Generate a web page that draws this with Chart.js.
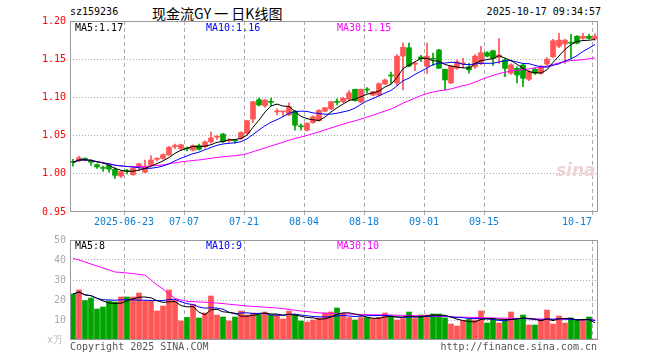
<!DOCTYPE html>
<html>
<head>
<meta charset="utf-8">
<script src="https://cdn.jsdelivr.net/npm/chart.js@4/dist/chart.umd.min.js"></script>
<style>
body { margin: 0; background: #fff; width: 660px; height: 360px; position: relative; overflow: hidden;
  font-family: "DejaVu Sans Mono", monospace; font-size: 10px; }
.t { position: absolute; white-space: nowrap; line-height: 12px; }
canvas { position: absolute; left: 0; }
</style>
</head>
<body>
<div class="t" style="left:70px;top:6px">sz159236</div>
<div class="t" style="left:152px;top:3px;font:14px 'Noto Sans CJK SC'">现金流GY 一 日K线图</div>
<div class="t" style="right:59px;top:6px">2025-10-17 09:34:57</div>
<canvas id="kc" width="660" height="232" style="top:0"></canvas>
<canvas id="vc" width="660" height="130" style="top:230px"></canvas>
<div class="t" style="left:75px;top:22px;color:#000">MA5:1.17</div>
<div class="t" style="left:206px;top:22px;color:#0000ff">MA10:1.16</div>
<div class="t" style="left:337px;top:22px;color:#ff00ff">MA30:1.15</div>
<div class="t" style="left:75px;top:240px;color:#000">MA5:8</div>
<div class="t" style="left:206px;top:240px;color:#0000ff">MA10:9</div>
<div class="t" style="left:337px;top:240px;color:#ff00ff">MA30:10</div>
<div class="t" style="left:47px;top:334px;color:#bbb">x万</div>
<div class="t" style="left:70px;top:341px;color:#555">Copyright 2025 SINA.COM</div>
<div class="t" style="right:63px;top:341px;color:#555">http://finance.sina.com.cn</div>
<div class="t" style="left:556px;top:160px;color:#f0d4d4;font:italic bold 17px 'DejaVu Sans'">sina</div>
<script>
const dates = [
  "06-10","06-11","06-12","06-13","06-16","06-17","06-18","06-19","06-20","06-23",
  "06-24","06-25","06-26","06-27","06-30","07-01","07-02","07-03","07-04","07-07",
  "07-08","07-09","07-10","07-11","07-14","07-15","07-16","07-17","07-18","07-21",
  "07-22","07-23","07-24","07-25","07-28","07-29","07-30","07-31","08-01","08-04",
  "08-05","08-06","08-07","08-08","08-11","08-12","08-13","08-14","08-15","08-18",
  "08-19","08-20","08-21","08-22","08-25","08-26","08-27","08-28","08-29","09-01",
  "09-02","09-03","09-04","09-05","09-08","09-09","09-10","09-11","09-12","09-15",
  "09-16","09-17","09-18","09-19","09-22","09-23","09-24","09-25","09-26","09-29",
  "09-30","10-09","10-10","10-13","10-14","10-15","10-16","10-17"
];
const tickDates = ["06-23", "07-07", "07-21", "08-04", "08-18", "09-01", "09-15", "10-17"];
const tickText = ["2025-06-23", "07-07", "07-21", "08-04", "08-18", "09-01", "09-15", "10-17"];

const opens = [
  1.016, 1.017, 1.020, 1.016, 1.012, 1.008, 1.011, 1.006, 0.997, 1.004,
  0.999, 1.009, 1.002, 1.0115, 1.019, 1.020, 1.0246, 1.0355, 1.033, 1.033,
  1.031, 1.037, 1.0355, 1.0416, 1.048, 1.052, 1.043, 1.0435, 1.0465, 1.053,
  1.0717, 1.097, 1.089, 1.0945, 1.081, 1.081, 1.077, 1.082, 1.062, 1.057,
  1.067, 1.0695, 1.082, 1.085, 1.0945, 1.0944, 1.0975, 1.1106, 1.094, 1.1105,
  1.103, 1.103, 1.1175, 1.129, 1.119, 1.154, 1.165, 1.1435, 1.153, 1.141,
  1.1505, 1.162, 1.1368, 1.119, 1.138, 1.144, 1.140, 1.140, 1.1446, 1.1585,
  1.161, 1.1525, 1.149, 1.1316, 1.138, 1.1424, 1.1237, 1.1368, 1.1316, 1.1437,
  1.1533, 1.167, 1.170, 1.1718, 1.180, 1.1773, 1.180, 1.1765
];
const highs = [
  1.019, 1.023, 1.021, 1.019, 1.013, 1.010, 1.012, 1.008, 1.004, 1.006,
  1.009, 1.014, 1.018, 1.024, 1.021, 1.026, 1.036, 1.039, 1.039, 1.035,
  1.038, 1.039, 1.043, 1.0547, 1.050, 1.053, 1.046, 1.045, 1.055, 1.070,
  1.095, 1.099, 1.097, 1.099, 1.085, 1.082, 1.093, 1.083, 1.065, 1.067,
  1.076, 1.084, 1.087, 1.095, 1.098, 1.100, 1.109, 1.111, 1.111, 1.113,
  1.108, 1.119, 1.124, 1.133, 1.156, 1.171, 1.171, 1.146, 1.155, 1.171,
  1.158, 1.163, 1.137, 1.141, 1.149, 1.151, 1.1446, 1.156, 1.167, 1.160,
  1.162, 1.177, 1.151, 1.144, 1.140, 1.144, 1.135, 1.139, 1.142, 1.152,
  1.176, 1.184, 1.176, 1.1826, 1.181, 1.184, 1.183, 1.183
];
const lows = [
  1.010, 1.016, 1.017, 1.011, 1.007, 1.003, 1.002, 0.994, 0.995, 1.000,
  0.998, 1.004, 1.001, 1.011, 1.017, 1.019, 1.024, 1.033, 1.031, 1.030,
  1.030, 1.031, 1.034, 1.040, 1.045, 1.041, 1.041, 1.040, 1.045, 1.052,
  1.067, 1.089, 1.087, 1.089, 1.077, 1.075, 1.076, 1.057, 1.057, 1.056,
  1.066, 1.069, 1.081, 1.084, 1.090, 1.093, 1.096, 1.095, 1.093, 1.106,
  1.102, 1.102, 1.117, 1.118, 1.116, 1.1097, 1.140, 1.135, 1.147, 1.1315,
  1.142, 1.138, 1.1097, 1.118, 1.137, 1.139, 1.1316, 1.138, 1.143, 1.153,
  1.142, 1.1446, 1.127, 1.130, 1.119, 1.114, 1.122, 1.130, 1.130, 1.142,
  1.152, 1.165, 1.1446, 1.151, 1.170, 1.176, 1.1765, 1.175
];
const closes = [
  1.015, 1.021, 1.019, 1.015, 1.009, 1.007, 1.006, 0.998, 1.003, 1.003,
  1.007, 1.013, 1.009, 1.018, 1.0195, 1.025, 1.0347, 1.037, 1.038, 1.0325,
  1.037, 1.032, 1.0416, 1.047, 1.0486, 1.042, 1.0435, 1.043, 1.054, 1.0695,
  1.0944, 1.090, 1.0966, 1.0935, 1.0816, 1.0816, 1.088, 1.0635, 1.0615, 1.066,
  1.0747, 1.083, 1.0865, 1.0944, 1.0935, 1.0988, 1.106, 1.0957, 1.1106, 1.1097,
  1.1075, 1.118, 1.1228, 1.128, 1.154, 1.1656, 1.141, 1.1446, 1.1505, 1.154,
  1.150, 1.138, 1.1228, 1.141, 1.1467, 1.145, 1.136, 1.154, 1.1585, 1.154,
  1.151, 1.1555, 1.138, 1.1424, 1.1293, 1.125, 1.1336, 1.1316, 1.140, 1.150,
  1.1742, 1.175, 1.175, 1.171, 1.171, 1.180, 1.1773, 1.1795
];
const volumes = [
  23, 25, 19.7, 21, 15.5, 16.5, 19.5, 19, 21.5, 21.5,
  21.5, 23.5, 19.5, 19.5, 14.5, 17, 25, 20, 9.5, 11.3,
  17.8, 11, 13.5, 22, 12.5, 11.5, 9.5, 11.5, 14.5, 12.5,
  13.5, 12.5, 14, 12.5, 12.5, 10.5, 14.5, 12.5, 9.5, 9,
  10, 11, 13.5, 14, 16, 13.3, 11.2, 10, 11.2, 11.2,
  10.7, 11.3, 13.5, 12, 10, 10.7, 14, 10.7, 12.5, 12.5,
  13, 13, 11, 8, 7, 9.8, 10.3, 10, 14.5, 8.5,
  10.3, 8.5, 9.7, 14, 10.3, 12.5, 7.5, 7.5, 10.3, 15,
  8, 12, 8.5, 11, 10, 10, 11.5, 0.5
];
// volume MA30 (history before 06-10 is not shown)
const volMa30 = [
  40.8, 40, 39, 38, 37, 36, 35, 34, 33.8, 33.5,
  33.2, 32.8, 32.4, 30, 27.5, 25.5, 23, 20.8, 20, 19.3,
  19.2, 19, 18.9, 18.7, 18.5, 18.2, 17.9, 17.6, 17.3, 17,
  16.8, 16.6, 16.4, 16.2, 16, 15.7, 15.3, 14.9, 14.5, 14.2,
  13.9, 13.6, 13.4, 13.3, 13.2, 13.1, 13, 12.9, 12.8, 12.7,
  12.6, 12.6, 12.5, 12.5, 12.4, 12.3, 12.3, 12.2, 12.1, 12,
  11.9, 11.8, 11.7, 11.6, 11.5, 11.4, 11.3, 11.3, 11.2, 11.1,
  11, 10.9, 10.9, 10.8, 10.8, 10.7, 10.6, 10.6, 10.5, 10.5,
  10.4, 10.4, 10.3, 10.3, 10.2, 10.2, 10.1, 10
];

const RED = "#ff5555", GREEN = "#00a400", GRID = "#aaaaaa", FRAME = "#999999";
const colors = closes.map((c, i) => c >= opens[i] ? RED : GREEN);

function ma(arr, n) {
  return arr.map((_, i) => {
    const s = arr.slice(Math.max(0, i - n + 1), i + 1);
    return s.reduce((a, b) => a + b, 0) / s.length;
  });
}

const frame = {
  id: "frame",
  afterDraw(chart) {
    const a = chart.chartArea, ctx = chart.ctx;
    ctx.save();
    ctx.strokeStyle = FRAME;
    ctx.lineWidth = 1;
    ctx.strokeRect(Math.round(a.left) + 0.5, Math.round(a.top) + 0.5,
      Math.round(a.right - a.left) - 1, Math.round(a.bottom - a.top) - 1);
    ctx.restore();
  }
};

const vGridColor = ctx => {
  const i = ctx.index;
  return (i < dates.length && tickDates.includes(dates[i])) ? GRID : "rgba(0,0,0,0)";
};

function xScale(showLabels) {
  return {
    type: "category",
    offset: true,
    grid: { offset: true, color: vGridColor, tickColor: vGridColor, tickLength: 3,
      tickBorderDash: [], drawTicks: showLabels, lineWidth: 1 },
    border: { display: false, dash: [4, 3] },
    ticks: {
      display: showLabels, autoSkip: false, maxRotation: 0, align: "inner",
      labelOffset: -3, padding: 1, color: "#0a7fd6",
      font: { family: "DejaVu Sans Mono", size: 10 },
      callback: (v, i) => {
        const k = tickDates.indexOf(dates[i]);
        return k >= 0 ? tickText[k] : "";
      }
    },
    afterFit: s => { s.height = 20; }
  };
}

function lineSet(data, color) {
  return { type: "line", data, borderColor: color, borderWidth: 1, pointRadius: 0,
    tension: 0, fill: false };
}

new Chart(document.getElementById("kc"), {
  type: "bar",
  data: {
    labels: dates,
    datasets: [
      lineSet(ma(closes, 5), "#000000"),
      lineSet(ma(closes, 10), "#0000ff"),
      lineSet(ma(closes, 30), "#ff00ff"),
      { data: opens.map((o, i) => [o, closes[i]]), backgroundColor: colors,
        barThickness: 5, minBarLength: 1, grouped: false },
      { data: lows.map((l, i) => [l, highs[i]]), backgroundColor: colors,
        barThickness: 1, grouped: false }
    ]
  },
  options: {
    responsive: false, animation: false,
    layout: { padding: { top: 21, right: 62, left: 0, bottom: 0 } },
    plugins: { legend: { display: false }, tooltip: { enabled: false } },
    scales: {
      x: xScale(true),
      y: {
        min: 0.95, max: 1.20,
        grid: { drawTicks: false, lineWidth: 1,
          color: ctx => (ctx.tick && ctx.tick.value > 0.951 && ctx.tick.value < 1.199) ? GRID : "rgba(0,0,0,0)" },
        border: { display: false, dash: [1, 2] },
        ticks: { stepSize: 0.05, padding: 4, color: "#ff0000",
          font: { family: "DejaVu Sans Mono", size: 10 },
          callback: v => Number(v).toFixed(2) },
        afterFit: s => { s.width = 70; }
      }
    }
  },
  plugins: [frame]
});

new Chart(document.getElementById("vc"), {
  type: "bar",
  data: {
    labels: dates,
    datasets: [
      lineSet(ma(volumes, 5), "#000000"),
      lineSet(ma(volumes, 10), "#0000ff"),
      lineSet(volMa30, "#ff00ff"),
      { data: volumes, backgroundColor: colors, barThickness: 5, grouped: false }
    ]
  },
  options: {
    responsive: false, animation: false,
    layout: { padding: { top: 10, right: 62, left: 0, bottom: 0 } },
    plugins: { legend: { display: false }, tooltip: { enabled: false } },
    scales: {
      x: xScale(false),
      y: {
        min: 0, max: 50,
        grid: { drawTicks: false, lineWidth: 1,
          color: ctx => (ctx.tick && ctx.tick.value > 0 && ctx.tick.value < 50) ? GRID : "rgba(0,0,0,0)" },
        border: { display: false, dash: [1, 2] },
        ticks: { stepSize: 10, padding: 4, color: "#aaaaaa",
          font: { family: "DejaVu Sans Mono", size: 10 },
          callback: v => v === 0 ? "" : v },
        afterFit: s => { s.width = 70; }
      }
    }
  },
  plugins: [frame]
});
</script>
</body>
</html>
